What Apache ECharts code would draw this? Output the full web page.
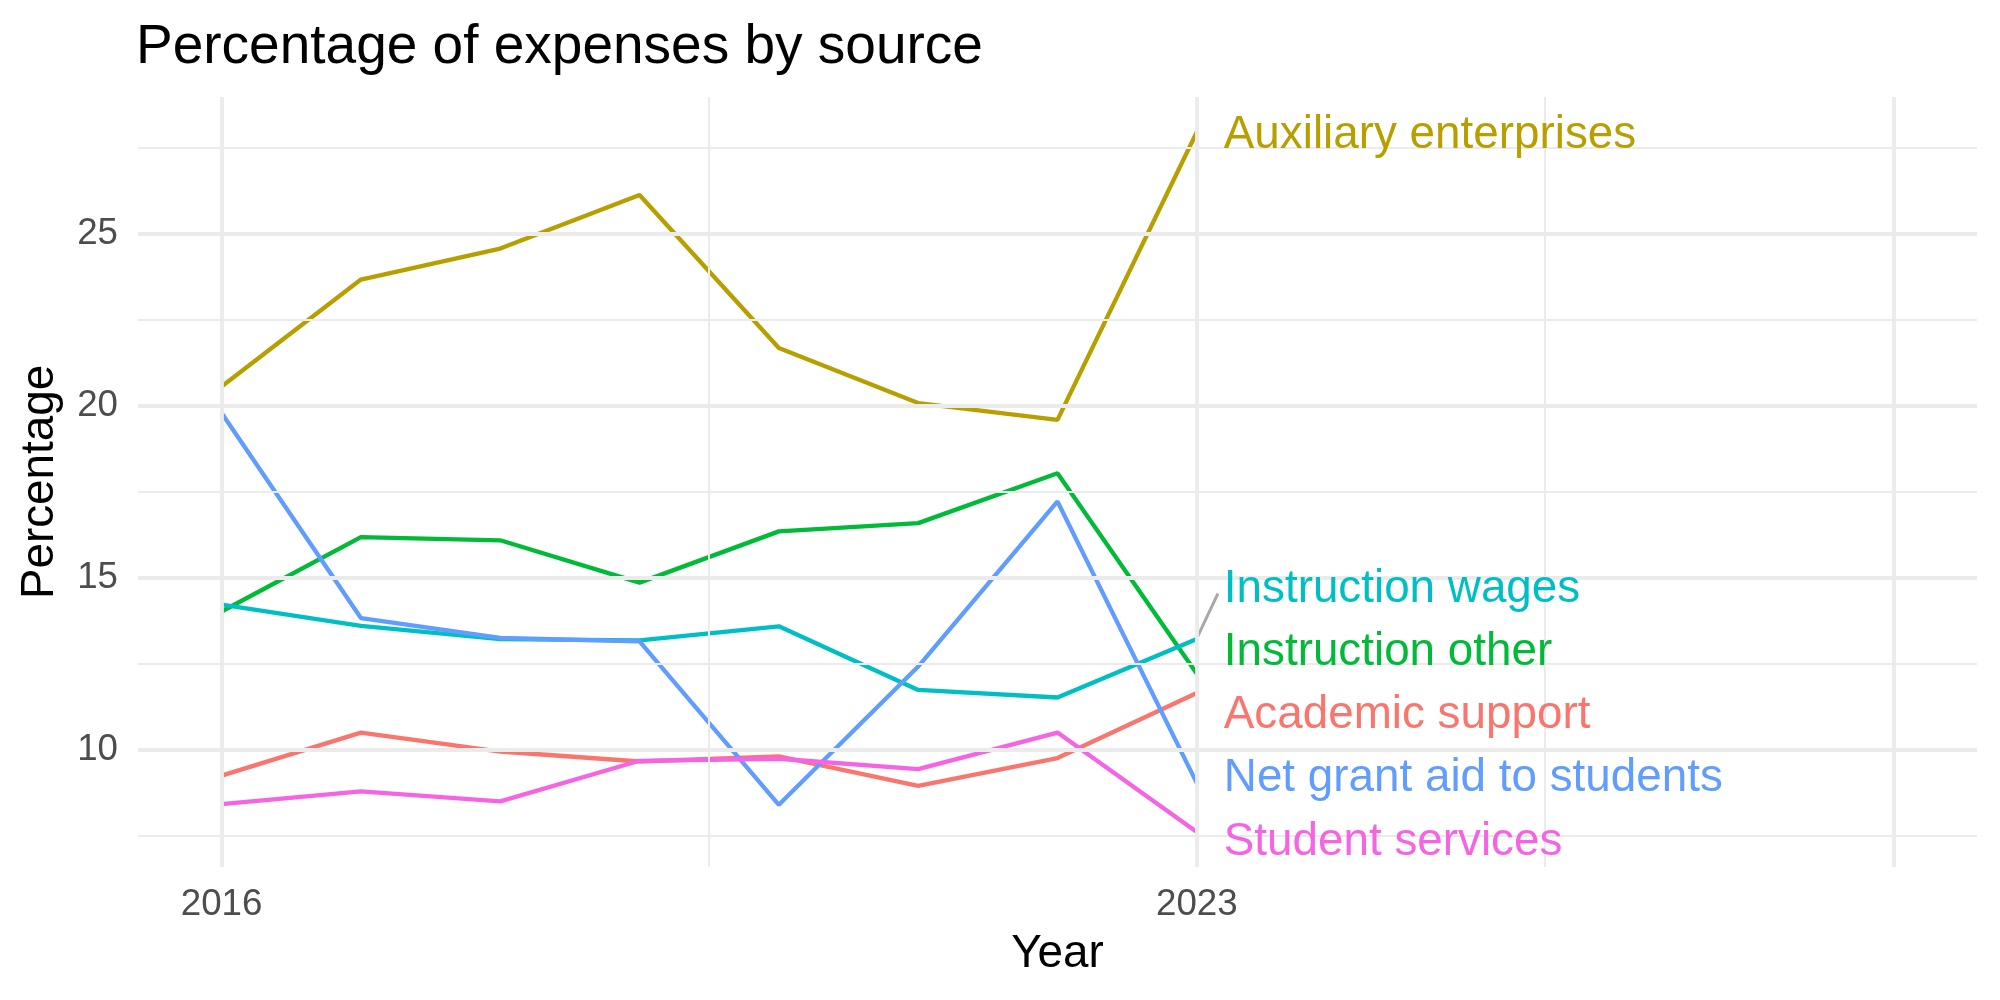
<!DOCTYPE html>
<html>
<head>
<meta charset="utf-8">
<script src="https://cdn.jsdelivr.net/npm/echarts@6/dist/echarts.min.js"></script>
<style>
  html, body { margin: 0; padding: 0; background: #fff; }
  #chart { width: 2000px; height: 1000px; }
</style>
</head>
<body>
<div id="chart"></div>
<script>
// years on the x axis
const years = [2016, 2017, 2018, 2019, 2020, 2021, 2022, 2023];

// percentage of expenses
const academicSupport = [9.24, 10.49, 9.94, 9.65, 9.80, 8.94, 9.75, 11.64];
const auxiliaryEnterprises = [20.55, 23.66, 24.56, 26.12, 21.67, 20.07, 19.58, 27.95];
const instructionOther = [14.01, 16.17, 16.08, 14.85, 16.34, 16.58, 18.03, 12.20];
const instructionWages = [14.21, 13.59, 13.21, 13.17, 13.58, 11.73, 11.51, 13.21];
const netGrantAid = [19.78, 13.82, 13.24, 13.14, 8.39, 12.41, 17.21, 9.02];
const studentServices = [8.41, 8.78, 8.49, 9.67, 9.73, 9.43, 10.49, 7.60];

// tick labels and grid breaks
const xTickLabels = [2016, 2023];
const xMajorBreaks = [2016, 2023, 2028];
const xMinorBreaks = [2019.5, 2025.5];
const yTickLabels = [10, 15, 20, 25];
const yMinorBreaks = [7.5, 12.5, 17.5, 22.5, 27.5];

// repel segment from the Instruction wages end point to its label
const wagesSegment = [[2023.005, 13.27], [2023.151, 14.53]];

const FONT = "'Liberation Sans', Arial, Helvetica, sans-serif";
const GRID_COLOR = "#EBEBEB";

// dy = label offset (px) from the line end, as ggrepel placed them
const seriesDefs = [
  { name: "Academic support", data: academicSupport, color: "#F8766D", dy: 22 },
  { name: "Auxiliary enterprises", data: auxiliaryEnterprises, color: "#B79F00", dy: 3 },
  { name: "Instruction other", data: instructionOther, color: "#00BA38", dy: -21 },
  { name: "Instruction wages", data: instructionWages, color: "#00BFC4", dy: -50 },
  { name: "Net grant aid to students", data: netGrantAid, color: "#619CFF", dy: -5 },
  { name: "Student services", data: studentServices, color: "#F564E3", dy: 10 },
];

const chart = echarts.init(document.getElementById("chart"));

const gridLines = [];
xMajorBreaks.forEach((v) => gridLines.push({ xAxis: v, lineStyle: { width: 3.8 } }));
xMinorBreaks.forEach((v) => gridLines.push({ xAxis: v, lineStyle: { width: 2 } }));
yTickLabels.forEach((v) => gridLines.push({ yAxis: v, lineStyle: { width: 3.8 } }));
yMinorBreaks.forEach((v) => gridLines.push({ yAxis: v, lineStyle: { width: 2 } }));

const series = [
  {
    name: "grid",
    type: "line",
    data: [[2016, 10]],
    showSymbol: false,
    lineStyle: { opacity: 0 },
    z: 0,
    silent: true,
    markLine: {
      silent: true,
      symbol: ["none", "none"],
      label: { show: false },
      lineStyle: { color: GRID_COLOR, type: "solid" },
      data: gridLines,
      animation: false,
    },
  },
];

seriesDefs.forEach((s) => {
  series.push({
    name: s.name,
    type: "line",
    data: years.map((y, i) => [y, s.data[i]]),
    showSymbol: false,
    lineStyle: { color: s.color, width: 4.3 },
    itemStyle: { color: s.color },
    z: 3,
  });
});

series.push({
  name: "segment",
  type: "line",
  data: wagesSegment,
  showSymbol: false,
  lineStyle: { color: "#A8A8A8", width: 3 },
  z: 3,
  silent: true,
});

chart.setOption({
  animation: false,
  backgroundColor: "#ffffff",
  title: {
    text: "Percentage of expenses by source",
    left: 136,
    top: 20,
    padding: 0,
    textStyle: { fontFamily: FONT, fontSize: 55, fontWeight: "normal", color: "#000000" },
  },
  grid: { left: 138, right: 23, top: 97, bottom: 133, containLabel: false },
  xAxis: {
    type: "value",
    min: 2015.4,
    max: 2028.6,
    name: "Year",
    nameLocation: "middle",
    nameGap: 64,
    nameTextStyle: { fontFamily: FONT, fontSize: 45.8, color: "#000000" },
    axisLine: { show: false },
    axisTick: { show: false },
    splitLine: { show: false },
    axisLabel: {
      customValues: xTickLabels,
      margin: 19,
      fontFamily: FONT,
      fontSize: 36.7,
      color: "#4D4D4D",
      formatter: (v) => String(v),
    },
  },
  yAxis: {
    type: "value",
    min: 6.5825,
    max: 28.9675,
    name: "Percentage",
    nameLocation: "middle",
    nameGap: 75,
    nameRotate: 90,
    nameTextStyle: { fontFamily: FONT, fontSize: 45.8, color: "#000000" },
    axisLine: { show: false },
    axisTick: { show: false },
    splitLine: { show: false },
    axisLabel: {
      customValues: yTickLabels,
      margin: 20,
      fontFamily: FONT,
      fontSize: 36.7,
      color: "#4D4D4D",
    },
  },
  series: series,
});

// direct labels next to the last point of each line
const lastIdx = years.length - 1;
const labels = seriesDefs.map((s) => {
  const p = chart.convertToPixel({ gridIndex: 0 }, [years[lastIdx], s.data[lastIdx]]);
  return {
    type: "text",
    x: p[0] + 27,
    y: p[1] + s.dy,
    z: 10,
    style: {
      text: s.name,
      fill: s.color,
      fontFamily: FONT,
      fontSize: 45.8,
      align: "left",
      verticalAlign: "middle",
    },
  };
});
chart.setOption({ graphic: labels });
</script>
</body>
</html>
